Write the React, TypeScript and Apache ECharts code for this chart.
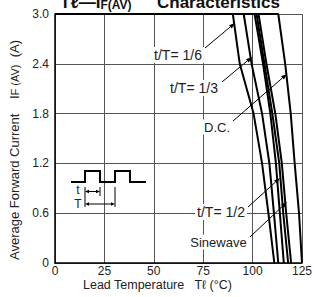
import React, { useEffect, useRef } from "react";
import * as echarts from "echarts";

const FONT = "Liberation Sans, Arial, sans-serif";

// Current levels (A) at which curve temperatures were read
const currents = [3.0, 2.4, 1.8, 1.2, 0.6, 0];
// Lead temperature (°C) of each curve at those current levels
const tRatio16 = [90, 93.5, 100.5, 104.8, 108, 111];
const tRatio13 = [95.5, 99.5, 104.8, 108.5, 110.8, 113];
const tRatio12 = [101, 105.3, 109, 111.8, 113.8, 115.8];
const tSinewave = [102, 106, 110, 113.5, 115.5, 118];
const tExtra = [103, 107, 111.5, 114.8, 117, 119.5];
const tDC = [113, 116.5, 119.3, 121.3, 123.5, 125];

const curveNames = ["t/T=1/6", "t/T=1/3", "t/T=1/2", "Sinewave", "curve5", "D.C."];
const curveTemps = [tRatio16, tRatio13, tRatio12, tSinewave, tExtra, tDC];

const xTicks = [0, 25, 50, 75, 100, 125];
const yTicks = [0, 0.6, 1.2, 1.8, 2.4, 3.0];

function arrow(x1: number, y1: number, x2: number, y2: number, head = 6, wid = 2.2) {
  const dx = x2 - x1, dy = y2 - y1;
  const L = Math.sqrt(dx * dx + dy * dy);
  const ux = dx / L, uy = dy / L;
  const nx = -uy, ny = ux;
  const bx = x2 - ux * head, by = y2 - uy * head;
  return [
    { type: "line", shape: { x1, y1, x2: bx, y2: by }, style: { stroke: "#000", lineWidth: 1 }, z: 10 },
    {
      type: "polygon",
      shape: { points: [[x2, y2], [bx + nx * wid, by + ny * wid], [bx - nx * wid, by - ny * wid]] },
      style: { fill: "#000" },
      z: 10,
    },
  ];
}

function dblArrow(x1: number, x2: number, y: number) {
  const h = 4, w = 1.8;
  return [
    { type: "line", shape: { x1: x1 + h, y1: y, x2: x2 - h, y2: y }, style: { stroke: "#000", lineWidth: 1 }, z: 10 },
    { type: "polygon", shape: { points: [[x1, y], [x1 + h, y - w], [x1 + h, y + w]] }, style: { fill: "#000" }, z: 10 },
    { type: "polygon", shape: { points: [[x2, y], [x2 - h, y - w], [x2 - h, y + w]] }, style: { fill: "#000" }, z: 10 },
  ];
}

function label(text: string, x: number, y: number, size = 13) {
  return {
    type: "text",
    x,
    y,
    z: 9,
    style: {
      text,
      fontSize: size,
      fontFamily: FONT,
      fill: "#222",
      align: "center",
      verticalAlign: "middle",
      backgroundColor: "#fff",
      padding: [1, 2],
    },
  };
}

export default function App() {
  const ref = useRef<HTMLDivElement>(null);
  useEffect(() => {
    if (!ref.current) return;
    const chart = echarts.init(ref.current, undefined, { renderer: "svg" });
    const series = curveTemps.map((temps, i) => ({
      name: curveNames[i],
      type: "line",
      showSymbol: false,
      symbol: "none",
      lineStyle: { color: "#000", width: 2 },
      data: [[0, currents[0]], ...temps.map((t, k) => [t, currents[k]])],
      z: 5,
    }));

    const graphic: any[] = [
      {
        type: "text",
        x: 60,
        y: 11,
        style: {
          text: "{m|Tℓ—I}{s|F(AV)}",
          align: "left",
          verticalAlign: "bottom",
          rich: {
            m: { fontSize: 17, fontWeight: "bold", fontFamily: FONT, fill: "#111" },
            s: { fontSize: 12, fontWeight: "bold", fontFamily: FONT, fill: "#111", verticalAlign: "bottom" },
          },
        },
      },
      {
        type: "text",
        x: 157,
        y: 11,
        style: {
          text: "Characteristics",
          align: "left",
          verticalAlign: "bottom",
          fontSize: 17,
          fontWeight: "bold",
          fontFamily: FONT,
          fill: "#111",
        },
      },
      {
        type: "text",
        x: 14,
        y: 150,
        rotation: Math.PI / 2,
        style: {
          text: "{m|Average Forward Current    I}{s|F (AV)}{m|  (A)}",
          align: "center",
          verticalAlign: "middle",
          rich: {
            m: { fontSize: 13, fontFamily: FONT, fill: "#222" },
            s: { fontSize: 11, fontFamily: FONT, fill: "#222", verticalAlign: "bottom" },
          },
        },
      },
      {
        type: "text",
        x: 83,
        y: 285,
        style: {
          text: "Lead Temperature   Tℓ (°C)",
          fontSize: 12.5,
          fontFamily: FONT,
          fill: "#222",
          align: "left",
          verticalAlign: "middle",
        },
      },
      label("t/T= 1/6", 178, 55, 14),
      ...arrow(205, 48, 235, 23),
      label("t/T= 1/3", 194, 88, 14),
      ...arrow(222, 82, 252, 57),
      label("D.C.", 217, 127, 13),
      ...arrow(233, 121, 287, 74),
      label("t/T= 1/2", 221, 212, 14),
      ...arrow(248, 207, 280, 178),
      label("Sinewave", 218.5, 242, 13),
      ...arrow(250, 237, 287, 202),
      {
        type: "polyline",
        shape: {
          points: [[71, 182], [85, 182], [85, 171], [100, 171], [100, 182], [115, 182], [115, 171], [130, 171], [130, 182], [146, 182]],
        },
        style: { stroke: "#000", lineWidth: 2, fill: "none" },
        z: 10,
      },
      { type: "line", shape: { x1: 85, y1: 187, x2: 85, y2: 207 }, style: { stroke: "#000", lineWidth: 1 }, z: 10 },
      { type: "line", shape: { x1: 100, y1: 187, x2: 100, y2: 196 }, style: { stroke: "#000", lineWidth: 1 }, z: 10 },
      { type: "line", shape: { x1: 115, y1: 187, x2: 115, y2: 207 }, style: { stroke: "#000", lineWidth: 1 }, z: 10 },
      ...dblArrow(85, 100, 191.5),
      ...dblArrow(85, 115, 204),
      {
        type: "text",
        x: 78,
        y: 190,
        z: 10,
        style: { text: "t", fontSize: 12, lineHeight: 11, fontFamily: FONT, fill: "#222", align: "center", verticalAlign: "middle" },
      },
      {
        type: "text",
        x: 78,
        y: 203.5,
        z: 10,
        style: { text: "T", fontSize: 12, lineHeight: 11, fontFamily: FONT, fill: "#222", align: "center", verticalAlign: "middle" },
      },
    ];

    chart.setOption({
      animation: false,
      backgroundColor: "#fff",
      grid: { left: 55, right: 10, top: 14, bottom: 34, containLabel: false },
      xAxis: {
        type: "value",
        min: xTicks[0],
        max: xTicks[xTicks.length - 1],
        interval: 25,
        axisLine: { show: true, lineStyle: { color: "#000", width: 1.5 } },
        axisTick: { show: false },
        axisLabel: { fontSize: 12, fontFamily: FONT, color: "#222", margin: 2 },
        splitLine: { show: true, lineStyle: { color: "#555", width: 1 } },
      },
      yAxis: {
        type: "value",
        min: yTicks[0],
        max: yTicks[yTicks.length - 1],
        interval: 0.6,
        axisLine: { show: true, lineStyle: { color: "#000", width: 1.5 } },
        axisTick: { show: false },
        axisLabel: {
          fontSize: 12,
          fontFamily: FONT,
          color: "#222",
          margin: 6,
          formatter: (v: number) => (v === 0 ? "0" : v.toFixed(1)),
        },
        splitLine: { show: true, lineStyle: { color: "#555", width: 1 } },
      },
      series,
      graphic,
    });
    return () => chart.dispose();
  }, []);
  return <div ref={ref} style={{ width: 315, height: 297, position: "absolute", left: 0, top: 0 }} />;
}
